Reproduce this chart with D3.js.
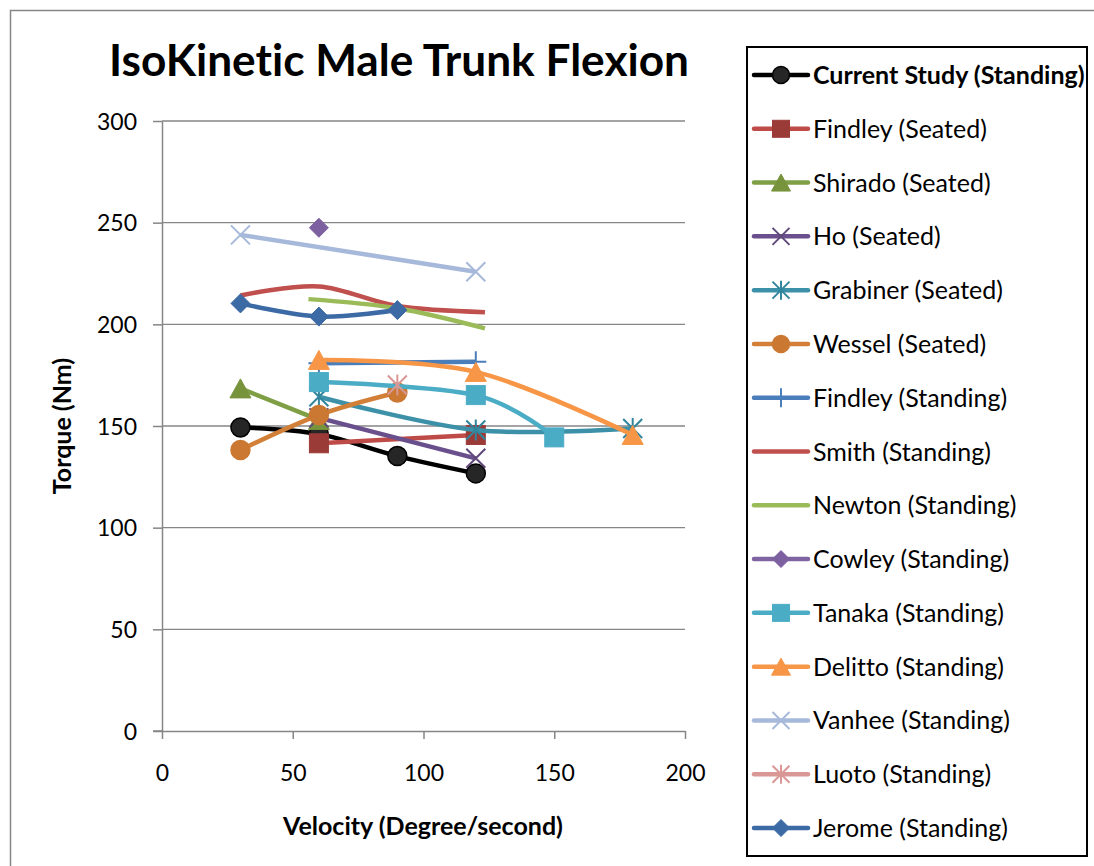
<!DOCTYPE html>
<html>
<head>
<meta charset="utf-8">
<script src="https://cdn.jsdelivr.net/npm/d3@7/dist/d3.min.js"></script>
<style>
  html, body { margin: 0; padding: 0; background: #fff; }
  svg { display: block; }
  text { font-family: Lato, "Open Sans", "Liberation Sans", sans-serif; fill: #000; font-variant-ligatures: none; }
</style>
</head>
<body>
<svg id="chart" width="1094" height="866"></svg>
<script>
// Isokinetic trunk flexion torque (Nm) by angular velocity (deg/s), per study.
const seriesNames = [
  "Current Study (Standing)", "Findley (Seated)", "Shirado (Seated)", "Ho (Seated)",
  "Grabiner (Seated)", "Wessel (Seated)", "Findley (Standing)", "Smith (Standing)",
  "Newton (Standing)", "Cowley (Standing)", "Tanaka (Standing)", "Delitto (Standing)",
  "Vanhee (Standing)", "Luoto (Standing)", "Jerome (Standing)"
];

// [velocity, torque] pairs
const currentStudy    = [[30, 149.3], [60, 146], [90, 135.2], [120, 126.7]];
const findleySeated   = [[60, 141.5], [120, 145.6]];
const shiradoSeated   = [[30, 168.5], [60, 153]];
const hoSeated        = [[60, 154], [120, 134.1]];
const grabinerSeated  = [[60, 164.4], [120, 148], [180, 148.8]];
const wesselSeated    = [[30, 138.2], [60, 155.4], [90, 166.5]];
const findleyStanding = [[60, 180.8], [120, 181.6]];
const smithStanding   = [[30, 214.2], [60, 218.6], [90, 209], [123.5, 206]];
const newtonStanding  = [[56, 212.4], [90, 207.9], [123.5, 198]];
const cowleyStanding  = [[60, 247.5]];
const tanakaStanding  = [[60, 171.6], [120, 165.2], [150, 144.4]];
const delittoStanding = [[60, 182.5], [120, 176.6], [180, 145.6]];
const vanheeStanding  = [[30, 244], [120, 225.9]];
const luotoStanding   = [[90, 170.2]];
const jeromeStanding  = [[30, 210.3], [60, 203.8], [90, 207]];

const seriesValues = [
  currentStudy, findleySeated, shiradoSeated, hoSeated, grabinerSeated, wesselSeated,
  findleyStanding, smithStanding, newtonStanding, cowleyStanding, tanakaStanding,
  delittoStanding, vanheeStanding, luotoStanding, jeromeStanding
];

const xTicks = [0, 50, 100, 150, 200];
const yTicks = [0, 50, 100, 150, 200, 250, 300];

// Styling per series: line colour, marker shape, marker fill/stroke
const styles = [
  { line: "#000000", shape: "circle",   fill: "#262626", stroke: "#000000" },
  { line: "#BE4B48", shape: "square",   fill: "#9B3B38", stroke: "#9B3B38" },
  { line: "#7F9F45", shape: "triangle", fill: "#77933C", stroke: "#77933C" },
  { line: "#6A4F8D", shape: "x",        fill: "none",    stroke: "#5F497A" },
  { line: "#3C91A8", shape: "asterisk", fill: "none",    stroke: "#31859C" },
  { line: "#D27F38", shape: "circle",   fill: "#CB7833", stroke: "#CB7833" },
  { line: "#4A7EBB", shape: "plus",     fill: "none",    stroke: "#4A7EBB" },
  { line: "#C0504D", shape: "none" },
  { line: "#9BBB59", shape: "none" },
  { line: "#8064A2", shape: "diamond",  fill: "#7D60A0", stroke: "#7D60A0" },
  { line: "#4BACC6", shape: "square",   fill: "#4BACC6", stroke: "#4BACC6" },
  { line: "#F79646", shape: "triangle", fill: "#F79646", stroke: "#F79646" },
  { line: "#A7B9DA", shape: "x",        fill: "none",    stroke: "#A7B9DA" },
  { line: "#D99795", shape: "asterisk", fill: "none",    stroke: "#D99795" },
  { line: "#3C6AA5", shape: "diamond",  fill: "#3C6AA5", stroke: "#3C6AA5" }
];

const svg = d3.select("#chart");
const grey = "#868686";

// Chart frame (left and top edges)
svg.append("path")
  .attr("d", "M10.5,866 V10.5 H1094")
  .attr("fill", "none").attr("stroke", grey).attr("stroke-width", 1.5);

const plot = { left: 162, right: 685, top: 121, bottom: 731 };
const x = d3.scaleLinear().domain([0, 200]).range([plot.left, plot.right]);
const y = d3.scaleLinear().domain([0, 300]).range([plot.bottom, plot.top]);

// Title
svg.append("text")
  .attr("x", 399).attr("y", 76)
  .attr("text-anchor", "middle")
  .attr("textLength", 580).attr("lengthAdjust", "spacingAndGlyphs")
  .style("font-size", "43px").style("font-weight", "bold")
  .text("IsoKinetic Male Trunk Flexion");

// Horizontal gridlines
svg.append("g").selectAll("line").data(yTicks.filter(d => d > 0)).join("line")
  .attr("x1", plot.left).attr("x2", plot.right)
  .attr("y1", d => y(d)).attr("y2", d => y(d))
  .attr("stroke", grey).attr("stroke-width", 1.4);

// Y axis
const yAxis = svg.append("g")
  .attr("transform", `translate(${plot.left},0)`)
  .call(d3.axisLeft(y).tickValues(yTicks).tickSize(9).tickSizeOuter(0).tickPadding(16));
// X axis
const xAxis = svg.append("g")
  .attr("transform", `translate(0,${plot.bottom})`)
  .call(d3.axisBottom(x).tickValues(xTicks).tickSize(8).tickSizeOuter(0).tickPadding(0));

[yAxis, xAxis].forEach(g => {
  g.select(".domain").attr("stroke", grey).attr("stroke-width", 1.5);
  g.selectAll(".tick line").attr("stroke", grey).attr("stroke-width", 1.5);
  g.selectAll(".tick text")
    .style("font-family", "Lato, 'Open Sans', sans-serif")
    .style("font-size", "23px").attr("fill", "#000");
});
yAxis.selectAll(".tick text").attr("dy", "0.35em");
xAxis.selectAll(".tick text").attr("y", 50).attr("dy", 0);
// extend x axis line leftwards to the y tick length
svg.append("line")
  .attr("x1", plot.left - 9).attr("x2", plot.left)
  .attr("y1", plot.bottom).attr("y2", plot.bottom)
  .attr("stroke", grey).attr("stroke-width", 1.5);

// Axis titles
svg.append("text")
  .attr("transform", "translate(71,426) rotate(-90)")
  .attr("text-anchor", "middle")
  .style("font-size", "25px").style("font-weight", "bold")
  .text("Torque (Nm)");
svg.append("text")
  .attr("x", 423).attr("y", 835)
  .attr("text-anchor", "middle")
  .style("font-size", "25px").style("font-weight", "bold")
  .text("Velocity (Degree/second)");

// Marker drawing
function drawMarker(g, shape, st, cx, cy, s) {
  const h = s / 2;
  if (shape === "circle") {
    g.append("circle").attr("cx", cx).attr("cy", cy).attr("r", h)
      .attr("fill", st.fill).attr("stroke", st.stroke).attr("stroke-width", 1.5);
  } else if (shape === "square") {
    g.append("rect").attr("x", cx - h).attr("y", cy - h).attr("width", s).attr("height", s)
      .attr("fill", st.fill).attr("stroke", st.stroke).attr("stroke-width", 1);
  } else if (shape === "triangle") {
    g.append("path")
      .attr("d", `M${cx},${cy - h} L${cx + h + 1},${cy + h} L${cx - h - 1},${cy + h} Z`)
      .attr("fill", st.fill).attr("stroke", st.stroke).attr("stroke-width", 1);
  } else if (shape === "diamond") {
    g.append("path")
      .attr("d", `M${cx},${cy - h} L${cx + h},${cy} L${cx},${cy + h} L${cx - h},${cy} Z`)
      .attr("fill", st.fill).attr("stroke", st.stroke).attr("stroke-width", 1);
  } else if (shape === "x" || shape === "asterisk" || shape === "plus") {
    let d = "";
    if (shape !== "plus") d += `M${cx - h},${cy - h} L${cx + h},${cy + h} M${cx - h},${cy + h} L${cx + h},${cy - h} `;
    if (shape !== "x") d += `M${cx},${cy - h - 1} L${cx},${cy + h + 1} `;
    if (shape === "plus") d += `M${cx - h - 1},${cy} L${cx + h + 1},${cy}`;
    g.append("path").attr("d", d).attr("fill", "none")
      .attr("stroke", st.stroke).attr("stroke-width", 2);
  }
}

const line = d3.line()
  .x(d => x(d[0])).y(d => y(d[1]))
  .curve(d3.curveCardinal.tension(0));

// Series: each line with its markers, in order
seriesValues.forEach((vals, i) => {
  const st = styles[i];
  const g = svg.append("g").attr("class", "series");
  if (vals.length > 1) {
    g.append("path").datum(vals).attr("d", line)
      .attr("fill", "none").attr("stroke", st.line)
      .attr("stroke-width", 4.5).attr("stroke-linejoin", "round");
  }
  if (st.shape !== "none") {
    vals.forEach(d => drawMarker(g, st.shape, st, x(d[0]), y(d[1]), 19));
  }
});

// Legend
const legend = svg.append("g");
legend.append("rect")
  .attr("x", 747).attr("y", 47).attr("width", 340).attr("height", 809)
  .attr("fill", "#fff").attr("stroke", "#000").attr("stroke-width", 2);
const rowY = d3.scaleLinear().domain([0, seriesNames.length - 1]).range([75, 828]);
seriesNames.forEach((name, i) => {
  const st = styles[i];
  const cy = rowY(i);
  legend.append("line")
    .attr("x1", 754).attr("x2", 808).attr("y1", cy).attr("y2", cy)
    .attr("stroke", st.line).attr("stroke-width", 4.5).attr("stroke-linecap", "round");
  if (st.shape !== "none") drawMarker(legend, st.shape, st, 781, cy, 17);
  legend.append("text")
    .attr("x", 813).attr("y", cy).attr("dy", "0.36em")
    .style("font-size", "25px")
    .style("font-weight", i === 0 ? "bold" : "normal")
    .text(name);
});
</script>
</body>
</html>
